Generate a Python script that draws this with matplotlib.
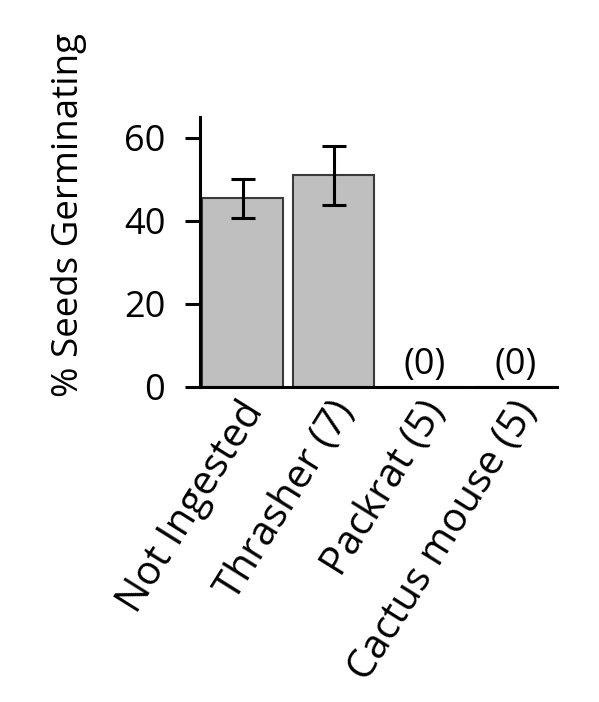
import matplotlib
matplotlib.use("Agg")
import matplotlib.pyplot as plt
import matplotlib.transforms as mtransforms

categories = ['Not Ingested', 'Thrasher (7)', 'Packrat (5)', 'Cactus mouse (5)']
germination = [45.5, 51.0, 0, 0]
errors = [4.7, 7.1, 0, 0]
zero_labels = ['', '', '(0)', '(0)']

plt.rcParams['font.family'] = ['Open Sans', 'DejaVu Sans']

fig = plt.figure(figsize=(5.99, 7.02), dpi=100)
ax = fig.add_axes([0.334, 0.449, 0.596, 0.384])

x = range(len(categories))
ax.bar(x, germination, width=0.89, color='#bfbfbf', edgecolor='#3a3a3a', linewidth=1.5)
for i in x:
    if errors[i] > 0:
        ax.errorbar(i, germination[i], yerr=errors[i], color='black',
                    capsize=8.6, elinewidth=2.2, capthick=2.2)
    if zero_labels[i]:
        ax.text(i, 1.0, zero_labels[i], ha='center', va='bottom', fontsize=26)

ax.set_xlim(-0.467, 3.456)
ax.set_ylim(0, 65)
ax.set_yticks([0, 20, 40, 60])
ax.set_xticks(list(x))
ax.set_xticklabels([])

# slanted category labels, a little right of the bar centres like the original
offset = mtransforms.ScaledTranslation(9 / 72, -13 / 72, fig.dpi_scale_trans)
for i, cat in zip(x, categories):
    ax.text(i, 0, cat, transform=ax.get_xaxis_transform() + offset,
            rotation=58, ha='right', va='center', rotation_mode='anchor',
            fontsize=29)

ax.tick_params(axis='y', labelsize=26, width=2.2, length=11, pad=14)
ax.tick_params(axis='x', length=0)
ax.set_ylabel('% Seeds Germinating', fontsize=26.5)
ax.yaxis.set_label_coords(-0.317, 0.637)

for s in ['top', 'right']:
    ax.spines[s].set_visible(False)
for s in ['left', 'bottom']:
    ax.spines[s].set_linewidth(2.2)

plt.savefig('out.png', dpi=100)
